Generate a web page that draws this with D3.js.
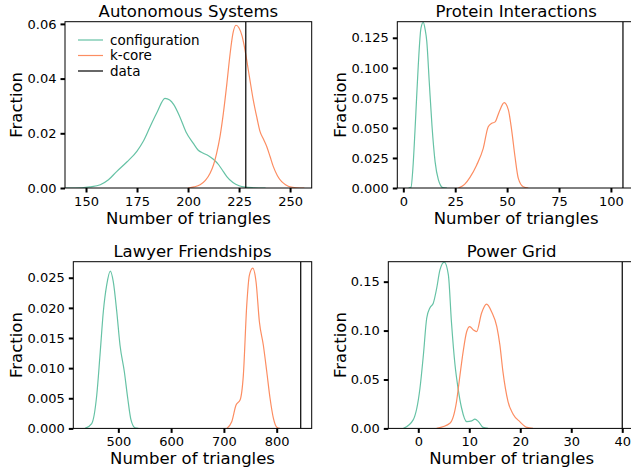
<!DOCTYPE html>
<html>
<head>
<meta charset="utf-8">
<script src="https://cdn.jsdelivr.net/npm/d3@7"></script>
<style>
  html, body { margin: 0; padding: 0; background: #fff; }
  svg { display: block; font-family: "DejaVu Sans", sans-serif; }
</style>
</head>
<body>
<svg id="chart" width="631" height="471"></svg>
<script>
// ---------------- DATA ----------------
const panelTitles = ["Autonomous Systems", "Protein Interactions", "Lawyer Friendships", "Power Grid"];
const seriesNames = ["configuration", "k-core", "data"];

// KDE curves: [number of triangles, fraction]
const asConfiguration = [[140,0],[148,0.0001],[152,0.0004],[157,0.0012],[161,0.003],[165,0.006],[170,0.0095],[175,0.0135],[178,0.017],[181.4,0.0224],[185,0.028],[188.7,0.0328],[191,0.0322],[193,0.0305],[196,0.026],[199,0.0205],[202.6,0.0163],[205,0.0138],[207.5,0.0127],[210,0.0118],[212.4,0.0105],[215,0.0085],[217.3,0.006],[219,0.0042],[222,0.002],[225,0.0008],[228,0.0003],[232,0.0001],[238,0]];
const asKcore = [[200,0],[203,0.0004],[205.9,0.0012],[208.5,0.0028],[210.8,0.0054],[212.5,0.0085],[214,0.0127],[215.7,0.019],[217.3,0.0273],[219,0.038],[220.6,0.049],[222,0.0565],[223.5,0.0595],[225,0.0585],[226.5,0.0555],[227.9,0.0505],[230,0.041],[232,0.032],[233.8,0.0255],[235.3,0.0206],[237,0.0178],[238.6,0.0151],[240.2,0.0115],[241.8,0.0078],[243.8,0.0045],[245.9,0.0023],[248,0.0011],[250,0.0004],[253,0.0001],[257,0]];
const asData = 228.3;

const proteinConfiguration = [[2.5,0],[3.7,0.0005],[4.6,0.016],[5.6,0.047],[6.4,0.075],[7.2,0.102],[8.5,0.133],[9.6,0.1378],[10.5,0.132],[11.3,0.122],[12.5,0.088],[13.8,0.052],[15.3,0.022],[16.9,0.0067],[18,0.002],[19,0.0003],[21,0]];
const proteinKcore = [[26.5,0],[29.5,0.003],[32.1,0.0089],[35.3,0.019],[38.5,0.033],[40.9,0.051],[42.6,0.0538],[44.2,0.055],[46.2,0.0635],[48.6,0.071],[50.6,0.065],[52.2,0.048],[53.8,0.026],[55.4,0.008],[57.8,0.001],[60.2,0]];
const proteinData = 105.8;

const lawyerConfiguration = [[436.9,0],[449.6,0.0008],[459.1,0.0055],[465.3,0.0122],[471.6,0.0194],[478,0.0238],[484.8,0.0261],[490.5,0.0243],[497,0.0194],[503.2,0.0138],[511.4,0.0094],[517.8,0.005],[524,0.0014],[531.6,0.0001],[538,0]];
const lawyerKcore = [[705.4,0],[714.8,0.0011],[723,0.0039],[730.6,0.0047],[736.8,0.0088],[743.3,0.0205],[748.2,0.0254],[754.6,0.0266],[760.9,0.0243],[767.2,0.0177],[774.7,0.0138],[781.2,0.0094],[787.4,0.005],[793.7,0.0017],[800.1,0.0002],[806,0]];
const lawyerData = 845.5;

const powerConfiguration = [[-2.9,0],[-1.0,0.0087],[0.33,0.041],[1.0,0.075],[1.65,0.1126],[2.3,0.1234],[2.94,0.128],[3.6,0.143],[4.25,0.162],[5.1,0.17],[5.9,0.157],[6.5,0.109],[7.2,0.065],[7.8,0.041],[8.5,0.0206],[9.5,0.0069],[10.5,0.0077],[11.1,0.0094],[11.8,0.0069],[12.7,0.001],[13.7,0]];
const powerKcore = [[3.6,0],[6.2,0.0053],[7.5,0.0274],[8.1,0.0513],[8.8,0.0785],[9.5,0.099],[10.1,0.104],[10.8,0.1006],[11.45,0.099],[12.4,0.1177],[13.4,0.127],[14.4,0.119],[15.4,0.104],[16.0,0.0853],[16.6,0.058],[17.6,0.0274],[18.6,0.0145],[19.9,0.0069],[21.3,0.001],[22.5,0]];
const powerData = 40;

// axis ranges and ticks
const asXDomain = [139.7, 260.6],   asYDomain = [0, 0.0608];
const proteinXDomain = [-2.9, 111.6], proteinYDomain = [0, 0.1384];
const lawyerXDomain = [414.7, 866.3], lawyerYDomain = [0, 0.02766];
const powerXDomain = [-5.88, 42.5],  powerYDomain = [0, 0.1704];

const asXTicks = [150, 175, 200, 225, 250],      asYTicks = [0, 0.02, 0.04, 0.06];
const proteinXTicks = [0, 25, 50, 75, 100],      proteinYTicks = [0, 0.025, 0.05, 0.075, 0.1, 0.125];
const lawyerXTicks = [500, 600, 700, 800],       lawyerYTicks = [0, 0.005, 0.01, 0.015, 0.02, 0.025];
const powerXTicks = [0, 10, 20, 30, 40],         powerYTicks = [0, 0.05, 0.1, 0.15];

const xLabel = "Number of triangles";
const yLabel = "Fraction";

// ---------------- STYLE / LAYOUT ----------------
const colors = { "configuration": "#66c2a5", "k-core": "#fc8d62", "data": "#000000" };

const panels = [
  { title: panelTitles[0], box: {l: 65, r: 311.7, t: 21.7, b: 188}, xd: asXDomain, yd: asYDomain, xt: asXTicks, yt: asYTicks, yfmt: ".2f", cfg: asConfiguration, kc: asKcore, data: asData, yLabOff: 43.5, legend: true },
  { title: panelTitles[1], box: {l: 397.3, r: 635, t: 21.7, b: 188}, xd: proteinXDomain, yd: proteinYDomain, xt: proteinXTicks, yt: proteinYTicks, yfmt: ".3f", cfg: proteinConfiguration, kc: proteinKcore, data: proteinData, yLabOff: 51 },
  { title: panelTitles[2], box: {l: 73.3, r: 311.7, t: 261.7, b: 428.4}, xd: lawyerXDomain, yd: lawyerYDomain, xt: lawyerXTicks, yt: lawyerYTicks, yfmt: ".3f", cfg: lawyerConfiguration, kc: lawyerKcore, data: lawyerData, yLabOff: 51.6 },
  { title: panelTitles[3], box: {l: 388.3, r: 635, t: 261.7, b: 428.4}, xd: powerXDomain, yd: powerYDomain, xt: powerXTicks, yt: powerYTicks, yfmt: ".2f", cfg: powerConfiguration, kc: powerKcore, data: powerData, yLabOff: 42.6 }
];

const svg = d3.select("#chart");

panels.forEach((p, i) => {
  const B = p.box;
  const x = d3.scaleLinear().domain(p.xd).range([B.l, B.r]);
  const y = d3.scaleLinear().domain(p.yd).range([B.b, B.t]);
  const g = svg.append("g");

  const clipId = "clip" + i;
  svg.append("clipPath").attr("id", clipId).append("rect")
    .attr("x", B.l).attr("y", B.t).attr("width", B.r - B.l).attr("height", B.b - B.t);

  const line = d3.line().x(d => x(d[0])).y(d => y(d[1])).curve(d3.curveMonotoneX);
  const plot = g.append("g").attr("clip-path", `url(#${clipId})`);

  plot.append("path").datum(p.cfg).attr("d", line)
    .attr("fill", "none").attr("stroke", colors["configuration"]).attr("stroke-width", 1.2);
  plot.append("path").datum(p.kc).attr("d", line)
    .attr("fill", "none").attr("stroke", colors["k-core"]).attr("stroke-width", 1.2);
  plot.append("line")
    .attr("x1", x(p.data)).attr("x2", x(p.data))
    .attr("y1", B.b).attr("y2", B.t)
    .attr("stroke", colors["data"]).attr("stroke-width", 1.2);

  // frame
  g.append("rect").attr("x", B.l).attr("y", B.t)
    .attr("width", B.r - B.l).attr("height", B.b - B.t)
    .attr("fill", "none").attr("stroke", "#000").attr("stroke-width", 1);

  // axes
  const xAxis = d3.axisBottom(x).tickValues(p.xt).tickSize(4.5).tickPadding(4).tickFormat(d3.format("d"));
  const yAxis = d3.axisLeft(y).tickValues(p.yt).tickSize(4.5).tickPadding(4).tickFormat(d3.format(p.yfmt));

  const gx = g.append("g").attr("transform", `translate(0,${B.b})`).call(xAxis);
  const gy = g.append("g").attr("transform", `translate(${B.l},0)`).call(yAxis);
  [gx, gy].forEach(ax => {
    ax.select(".domain").remove();
    ax.selectAll(".tick line").attr("stroke", "#000").attr("stroke-width", 2);
    ax.selectAll(".tick text").attr("fill", "#000").style("font-size", "13px").style("font-family", "DejaVu Sans");
  });

  // title
  g.append("text").attr("x", (B.l + B.r) / 2).attr("y", B.t - 5)
    .attr("text-anchor", "middle").style("font-size", "16.5px").text(p.title);

  // x label
  g.append("text").attr("x", (B.l + B.r) / 2).attr("y", B.b + 35.5)
    .attr("text-anchor", "middle").style("font-size", "16.5px").text(xLabel);

  // y label
  const yl = B.l - p.yLabOff;
  const ym = (B.t + B.b) / 2;
  g.append("text").attr("transform", `translate(${yl},${ym}) rotate(-90)`)
    .attr("text-anchor", "middle").style("font-size", "16.5px").text(yLabel);

  if (p.legend) {
    const lg = g.append("g");
    const rows = [40, 55.5, 71];
    seriesNames.forEach((name, k) => {
      lg.append("line").attr("x1", 78).attr("x2", 103).attr("y1", rows[k]).attr("y2", rows[k])
        .attr("stroke", colors[name]).attr("stroke-width", 1.2);
      lg.append("text").attr("x", 110).attr("y", rows[k]).attr("dy", "0.35em")
        .style("font-size", "13.5px").text(name);
    });
  }
});
</script>
</body>
</html>
